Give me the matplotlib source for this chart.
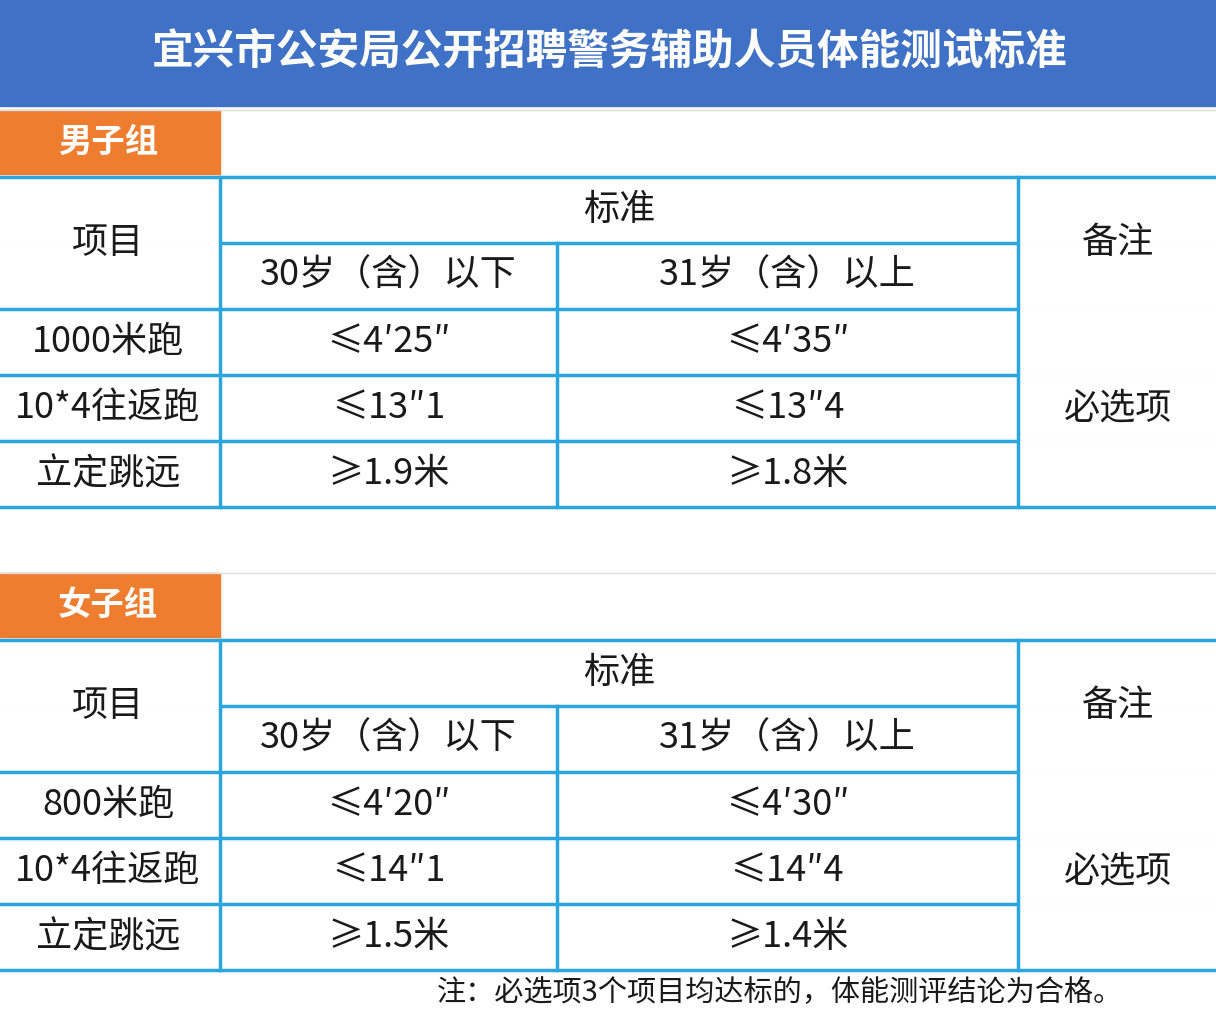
import matplotlib.pyplot as plt
from matplotlib.patches import Rectangle

plt.rcParams['font.family'] = ['Noto Sans CJK SC', 'DejaVu Sans']

title = "宜兴市公安局公开招聘警务辅助人员体能测试标准"
groups = ["男子组", "女子组"]
head_item = "项目"
head_std = "标准"
head_note = "备注"
ages = ["30岁（含）以下", "31岁（含）以上"]
items = [["1000米跑", "10*4往返跑", "立定跳远"],
         ["800米跑", "10*4往返跑", "立定跳远"]]
young = [["≤4′25″", "≤13″1", "≥1.9米"], ["≤4′20″", "≤14″1", "≥1.5米"]]
old = [["≤4′35″", "≤13″4", "≥1.8米"], ["≤4′30″", "≤14″4", "≥1.4米"]]
remark = "必选项"
footnote = "注：必选项3个项目均达标的，体能测评结论为合格。"

W, H = 1216, 1014
BLUE = "#3f72c6"
ORANGE = "#ee7d2f"
LINE = "#2aa5de"
TXT = "#1a1a1a"

fig = plt.figure(figsize=(W / 100, H / 100), dpi=100)
ax = fig.add_axes([0, 0, 1, 1])
ax.set_xlim(0, W)
ax.set_ylim(H, 0)
ax.axis("off")

ax.add_patch(Rectangle((0, 0), W, 106, color=BLUE))
ax.text(W / 2 + 2, 52, title, color="white", fontsize=30, fontweight="bold",
        ha="center", va="center")

cols = [0, 220, 557, 1018, W]
tops = [110, 573]
for g in range(2):
    t = tops[g]
    ax.plot([0, W], [t, t], color="#dddddd", lw=1)
    ax.add_patch(Rectangle((0, t), 220, 64, color=ORANGE))
    ax.text(108, t + 32, groups[g], color="white", fontsize=24, fontweight="bold",
            ha="center", va="center")
    r = [t + 67 + 66 * i for i in range(6)]
    lw = 2.5
    for y in r:
        ax.plot([0, W], [y, y], color=LINE, lw=lw)
    for y in r[1:5]:
        ax.plot([cols[3] + 2, W], [y, y], color="white", lw=lw + 1)
    ax.plot([cols[0] + 1, cols[1] - 2], [r[1], r[1]], color="white", lw=lw + 1)
    ax.plot([cols[1], cols[1]], [r[0], r[5]], color=LINE, lw=lw)
    ax.plot([cols[2], cols[2]], [r[1], r[5]], color=LINE, lw=lw)
    ax.plot([cols[3], cols[3]], [r[0], r[5]], color=LINE, lw=lw)
    fs = 26
    kw = dict(fontsize=fs, color=TXT, ha="center", va="center")
    ax.text(108, (r[0] + r[2]) / 2, head_item, **kw)
    ax.text((cols[1] + cols[3]) / 2, (r[0] + r[1]) / 2, head_std, **kw)
    ax.text(1118, (r[0] + r[2]) / 2, head_note, **kw)
    ax.text((cols[1] + cols[2]) / 2, (r[1] + r[2]) / 2, ages[0], **kw)
    ax.text((cols[2] + cols[3]) / 2, (r[1] + r[2]) / 2, ages[1], **kw)
    for i in range(3):
        yc = (r[2 + i] + r[3 + i]) / 2
        ax.text(108, yc, items[g][i], **kw)
        ax.text((cols[1] + cols[2]) / 2, yc, young[g][i], **kw)
        ax.text((cols[2] + cols[3]) / 2, yc, old[g][i], **kw)
    ax.text(1118, (r[2] + r[5]) / 2, remark, **kw)

ax.text(780, 993, footnote, fontsize=21, color=TXT, ha="center", va="center")

fig.savefig("out.png", dpi=100, facecolor="white")
